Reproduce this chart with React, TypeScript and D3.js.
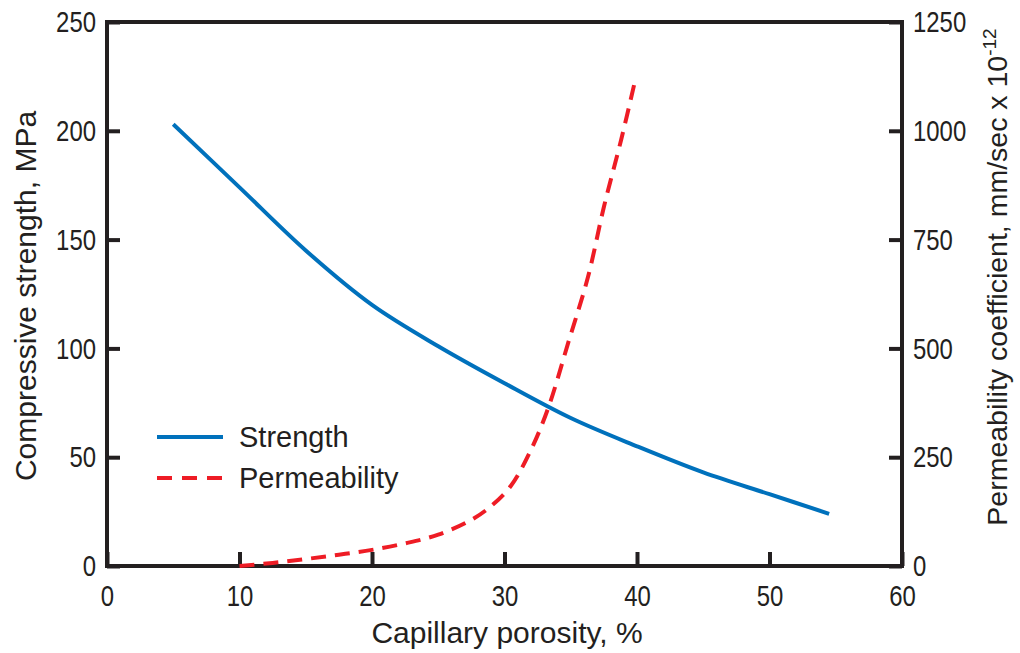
import React, { useEffect, useRef } from "react";
import * as d3 from "d3";

// capillary porosity (%) vs compressive strength (MPa)
const porosity = [5, 10, 15, 20, 25, 30, 35, 40, 45, 50, 54.5];
const strength = [203, 174, 145, 120, 101, 84, 68, 55, 43, 33, 24];

// capillary porosity (%) vs permeability coefficient (mm/sec x 10^-12)
const permPorosity = [10, 12.5, 15, 17.5, 20, 22.5, 25, 27.5, 29, 30.5, 32, 33.3, 34.8, 36.3, 37.5, 38.8, 39.9];
const permeability = [0, 7, 16, 26, 37, 52, 72, 106, 138, 185, 267, 363, 512, 664, 825, 979, 1121];

const xTicks = [0, 10, 20, 30, 40, 50, 60];
const leftTicks = [0, 50, 100, 150, 200, 250];
const rightTicks = [0, 250, 500, 750, 1000, 1250];

const FONT = "'Liberation Sans', Arial, Helvetica, sans-serif";
const BLUE = "#0071bc";
const RED = "#ee1c25";
const INK = "#231f20";

export default function App() {
  const ref = useRef<SVGSVGElement | null>(null);

  useEffect(() => {
    const svg = d3.select(ref.current);
    svg.selectAll("*").remove();

    const left = 107, right = 902, top = 22, bottom = 566;

    const x = d3.scaleLinear().domain([0, 60]).range([left, right]);
    const yL = d3.scaleLinear().domain([0, 250]).range([bottom, top]);
    const yR = d3.scaleLinear().domain([0, 1250]).range([bottom, top]);

    const styleAxis = (g: any) => {
      g.select(".domain").remove();
      g.selectAll(".tick line").attr("stroke", INK).attr("stroke-width", 4);
      // digits in the original are condensed
      g.selectAll(".tick text")
        .attr("fill", INK)
        .attr("font-family", FONT)
        .attr("font-size", 30)
        .attr("lengthAdjust", "spacingAndGlyphs")
        .attr("textLength", function (this: any) {
          return this.textContent.length * 13.3;
        });
    };

    // ticks point inward on every side
    svg.append("g")
      .attr("transform", `translate(0,${bottom})`)
      .call(d3.axisBottom(x).tickValues(xTicks).tickFormat(d3.format("d")).tickSizeInner(-14).tickSizeOuter(0).tickPadding(12))
      .call(styleAxis)
      .call((g: any) => g.selectAll(".tick text").attr("dy", "0.92em"));

    svg.append("g")
      .attr("transform", `translate(${left},0)`)
      .call(d3.axisLeft(yL).tickValues(leftTicks).tickFormat(d3.format("d")).tickSizeInner(-13).tickSizeOuter(0).tickPadding(11))
      .call(styleAxis);

    svg.append("g")
      .attr("transform", `translate(${right},0)`)
      .call(d3.axisRight(yR).tickValues(rightTicks).tickFormat(d3.format("d")).tickSizeInner(-13).tickSizeOuter(0).tickPadding(11))
      .call(styleAxis);

    // frame
    svg.append("rect")
      .attr("x", left)
      .attr("y", top)
      .attr("width", right - left)
      .attr("height", bottom - top)
      .attr("fill", "none")
      .attr("stroke", INK)
      .attr("stroke-width", 4);

    const strengthLine = d3.line<number>()
      .x((d, i) => x(porosity[i]))
      .y((d) => yL(d))
      .curve(d3.curveCatmullRom.alpha(0.5));

    svg.append("path")
      .datum(strength)
      .attr("d", strengthLine)
      .attr("fill", "none")
      .attr("stroke", BLUE)
      .attr("stroke-width", 4);

    const permLine = d3.line<number>()
      .x((d, i) => x(permPorosity[i]))
      .y((d) => yR(d))
      .curve(d3.curveCatmullRom.alpha(0.5));

    svg.append("path")
      .datum(permeability)
      .attr("d", permLine)
      .attr("fill", "none")
      .attr("stroke", RED)
      .attr("stroke-width", 4)
      .attr("stroke-dasharray", "15 9");

    // legend
    const legend = [
      { label: "Strength", color: BLUE, dash: null, y: 437 },
      { label: "Permeability", color: RED, dash: "15 10", y: 478 },
    ];
    legend.forEach((l) => {
      svg.append("line")
        .attr("x1", 157).attr("x2", 223)
        .attr("y1", l.y).attr("y2", l.y)
        .attr("stroke", l.color)
        .attr("stroke-width", 4)
        .attr("stroke-dasharray", l.dash);
      svg.append("text")
        .attr("x", 239)
        .attr("y", l.y + 10)
        .attr("font-family", FONT)
        .attr("font-size", 29)
        .attr("fill", INK)
        .text(l.label);
    });

    // axis titles
    svg.append("text")
      .attr("x", 507)
      .attr("y", 643)
      .attr("text-anchor", "middle")
      .attr("font-family", FONT)
      .attr("font-size", 30)
      .attr("fill", INK)
      .text("Capillary porosity, %");

    svg.append("text")
      .attr("transform", "translate(36,296) rotate(-90)")
      .attr("text-anchor", "middle")
      .attr("font-family", FONT)
      .attr("font-size", 30)
      .attr("fill", INK)
      .text("Compressive strength, MPa");

    const rt = svg.append("text")
      .attr("transform", "translate(1007,277) rotate(-90)")
      .attr("text-anchor", "middle")
      .attr("font-family", FONT)
      .attr("font-size", 28.5)
      .attr("fill", INK);
    rt.append("tspan").text("Permeability coefficient, mm/sec x 10");
    rt.append("tspan").attr("font-size", 19).attr("dy", -11).text("-12");
  }, []);

  return (
    <svg
      ref={ref}
      width={1020}
      height={653}
      style={{ position: "absolute", left: 0, top: 0, background: "#fff" }}
    />
  );
}
